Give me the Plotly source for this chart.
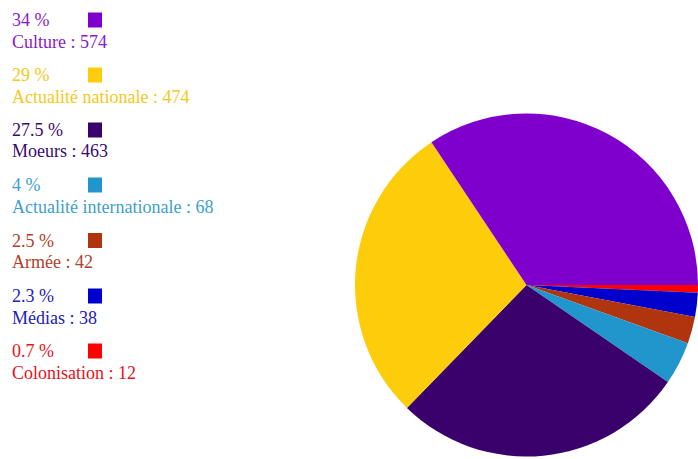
import plotly.graph_objects as go

categories = ["Culture", "Actualité nationale", "Moeurs", "Actualité internationale",
              "Armée", "Médias", "Colonisation"]
values = [574, 474, 463, 68, 42, 38, 12]
percent_labels = ["34 %", "29 %", "27.5 %", "4 %", "2.5 %", "2.3 %", "0.7 %"]
colors = ["#7F00CC", "#FDCC0A", "#3A006C", "#2196CC", "#B0340E", "#0000CC", "#FF0000"]
text_colors = ["#8A1ACC", "#F5C820", "#3A0A6C", "#3DA0CC", "#B0402A", "#2020C0", "#E81020"]

W, H = 698, 459


def px_x(x):
    return x / W


def px_y(y):
    return 1 - y / H


fig = go.Figure()
fig.add_trace(go.Pie(
    labels=categories[::-1],
    values=values[::-1],
    marker=dict(colors=colors[::-1], line=dict(width=0)),
    sort=False,
    direction="clockwise",
    rotation=90,
    textinfo="none",
    hoverinfo="label+value+percent",
    showlegend=False,
    domain=dict(x=[px_x(355), 1.0], y=[px_y(457), px_y(113)]),
))

font_family = "Liberation Serif, Times New Roman, serif"
annotations = []
shapes = []
row_centers = [20, 75, 130, 185, 240.5, 296, 351]
for i, (cat, val, pct, tc, c) in enumerate(zip(categories, values, percent_labels, text_colors, colors)):
    y_c = row_centers[i]
    annotations.append(dict(
        x=px_x(10), y=px_y(y_c), xref="paper", yref="paper",
        xanchor="left", yanchor="middle", showarrow=False,
        text=pct, font=dict(family=font_family, size=18, color=tc),
    ))
    annotations.append(dict(
        x=px_x(10), y=px_y(y_c + 21.5), xref="paper", yref="paper",
        xanchor="left", yanchor="middle", showarrow=False,
        text=f"{cat} : {val}", font=dict(family=font_family, size=18, color=tc),
    ))
    shapes.append(dict(
        type="rect", xref="paper", yref="paper",
        x0=px_x(88), x1=px_x(102),
        y0=px_y(y_c + 7.5), y1=px_y(y_c - 7.5),
        fillcolor=c, line=dict(width=0),
    ))

fig.update_layout(
    width=W, height=H,
    margin=dict(l=0, r=0, t=0, b=0),
    paper_bgcolor="white", plot_bgcolor="white",
    annotations=annotations, shapes=shapes,
)

fig.write_html(
    "out.html",
    config={"displayModeBar": False},
    post_script=(
        "document.body.style.margin='0';"
        "document.body.style.overflow='hidden';"
        "document.documentElement.style.overflow='hidden';"
    ),
)
